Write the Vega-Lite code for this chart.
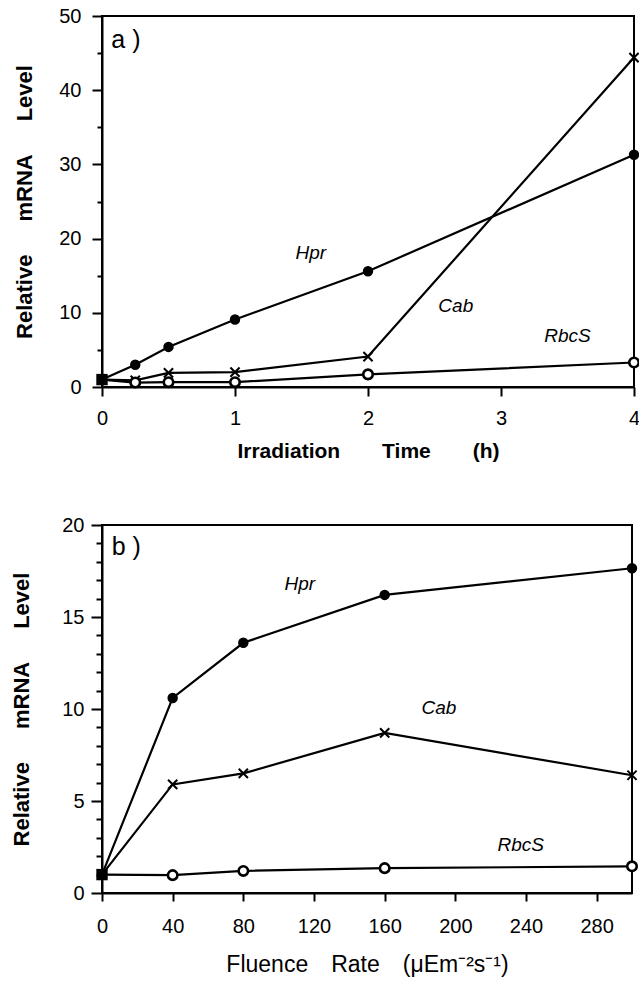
{
  "$schema": "https://vega.github.io/schema/vega-lite/v6.json",
  "background": "white",
  "padding": {"left": 9, "top": 5, "right": 2, "bottom": 2},
  "spacing": 52,
  "config": {
    "view": {"stroke": "black", "strokeWidth": 2},
    "font": "Liberation Sans",
    "axis": {
      "grid": false,
      "domainColor": "black",
      "domainWidth": 2,
      "tickColor": "black",
      "tickWidth": 2,
      "labelColor": "black",
      "titleColor": "black",
      "labelFont": "Liberation Sans",
      "titleFont": "Liberation Sans",
      "labelFontSize": 20,
      "labelFontWeight": "normal"
    }
  },
  "resolve": {"scale": {"x": "independent", "y": "independent"}},
  "datasets": {
    "timecourse": [
      {"time": 0, "level": 1, "gene": "Hpr"},
      {"time": 0.25, "level": 3.0, "gene": "Hpr"},
      {"time": 0.5, "level": 5.4, "gene": "Hpr"},
      {"time": 1, "level": 9.1, "gene": "Hpr"},
      {"time": 2, "level": 15.6, "gene": "Hpr"},
      {"time": 4, "level": 31.3, "gene": "Hpr"},
      {"time": 0, "level": 1, "gene": "Cab"},
      {"time": 0.25, "level": 0.9, "gene": "Cab"},
      {"time": 0.5, "level": 1.9, "gene": "Cab"},
      {"time": 1, "level": 2.0, "gene": "Cab"},
      {"time": 2, "level": 4.1, "gene": "Cab"},
      {"time": 4, "level": 44.4, "gene": "Cab"},
      {"time": 0, "level": 1, "gene": "RbcS"},
      {"time": 0.25, "level": 0.6, "gene": "RbcS"},
      {"time": 0.5, "level": 0.65, "gene": "RbcS"},
      {"time": 1, "level": 0.65, "gene": "RbcS"},
      {"time": 2, "level": 1.7, "gene": "RbcS"},
      {"time": 4, "level": 3.3, "gene": "RbcS"}
    ],
    "fluence": [
      {"fluence": 0, "level": 1, "gene": "Hpr"},
      {"fluence": 40, "level": 10.6, "gene": "Hpr"},
      {"fluence": 80, "level": 13.6, "gene": "Hpr"},
      {"fluence": 160, "level": 16.2, "gene": "Hpr"},
      {"fluence": 300, "level": 17.65, "gene": "Hpr"},
      {"fluence": 0, "level": 1, "gene": "Cab"},
      {"fluence": 40, "level": 5.9, "gene": "Cab"},
      {"fluence": 80, "level": 6.5, "gene": "Cab"},
      {"fluence": 160, "level": 8.7, "gene": "Cab"},
      {"fluence": 300, "level": 6.4, "gene": "Cab"},
      {"fluence": 0, "level": 1, "gene": "RbcS"},
      {"fluence": 40, "level": 0.97, "gene": "RbcS"},
      {"fluence": 80, "level": 1.2, "gene": "RbcS"},
      {"fluence": 160, "level": 1.35, "gene": "RbcS"},
      {"fluence": 300, "level": 1.45, "gene": "RbcS"}
    ],
    "labelsA": [
      {"time": 1.57, "level": 18.0, "text": "Hpr"},
      {"time": 2.66, "level": 10.85, "text": "Cab"},
      {"time": 3.5, "level": 6.9, "text": "RbcS"}
    ],
    "labelsB": [
      {"fluence": 112, "level": 16.8, "text": "Hpr"},
      {"fluence": 190.7, "level": 10.05, "text": "Cab"},
      {"fluence": 237, "level": 2.6, "text": "RbcS"}
    ],
    "tagA": [{"time": 0.07, "level": 46.7, "text": "a )"}],
    "tagB": [{"fluence": 5.5, "level": 18.8, "text": "b )"}]
  },
  "vconcat": [
    {
      "width": 532,
      "height": 371,
      "encoding": {
        "x": {
          "field": "time",
          "type": "quantitative",
          "scale": {"domain": [0, 4], "nice": false, "zero": false},
          "axis": {
            "title": "Irradiation\u2003\u2003Time\u2003\u2003(h)",
            "titleFontSize": 21,
            "titleFontWeight": "bold",
            "values": [0, 1, 2, 3, 4],
            "tickSize": 9,
            "labelPadding": 12,
            "titlePadding": 12,
            "labelFlush": false
          }
        },
        "y": {
          "field": "level",
          "type": "quantitative",
          "scale": {"domain": [0, 50], "nice": false},
          "axis": {
            "title": "Relative\u2003\u2002mRNA\u2003\u2002Level",
            "titleFontSize": 22,
            "titleFontWeight": "bold",
            "values": [0, 5, 10, 15, 20, 25, 30, 35, 40, 45, 50],
            "labelExpr": "datum.value % 10 === 0 ? datum.label : ''",
            "tickSize": {"condition": {"test": "datum.value % 10 === 0", "value": 10}, "value": 5},
            "labelPadding": 11,
            "titlePadding": 22
          }
        }
      },
      "layer": [
        {
          "data": {"name": "timecourse"},
          "mark": {"type": "line", "color": "black", "strokeWidth": 2.2},
          "encoding": {"detail": {"field": "gene"}}
        },
        {
          "data": {"name": "timecourse"},
          "transform": [{"filter": "datum.time > 0"}],
          "mark": {"type": "point", "filled": true, "opacity": 1, "stroke": "black"},
          "encoding": {
            "shape": {"field": "gene", "scale": {"domain": ["Hpr", "Cab", "RbcS"], "range": ["circle", "M-1,-1L1,1M-1,1L1,-1", "circle"]}, "legend": null},
            "fill": {"field": "gene", "scale": {"domain": ["Hpr", "Cab", "RbcS"], "range": ["black", "black", "white"]}, "legend": null},
            "size": {"field": "gene", "scale": {"domain": ["Hpr", "Cab", "RbcS"], "range": [80, 90, 55]}, "legend": null},
            "strokeWidth": {"field": "gene", "scale": {"domain": ["Hpr", "Cab", "RbcS"], "range": [1.5, 2.6, 1.8]}, "legend": null}
          }
        },
        {
          "data": {"name": "timecourse"},
          "transform": [{"filter": "datum.time == 0 && datum.gene == 'Hpr'"}],
          "mark": {"type": "square", "color": "black", "filled": true, "opacity": 1, "size": 130}
        },
        {
          "data": {"name": "labelsA"},
          "mark": {"type": "text", "fontStyle": "italic", "fontSize": 19, "font": "Liberation Sans", "color": "black"},
          "encoding": {"text": {"field": "text"}}
        },
        {
          "data": {"name": "tagA"},
          "mark": {"type": "text", "align": "left", "baseline": "middle", "fontSize": 25, "font": "Liberation Sans", "color": "black"},
          "encoding": {"text": {"field": "text"}}
        }
      ]
    },
    {
      "width": 530,
      "height": 368,
      "encoding": {
        "x": {
          "field": "fluence",
          "type": "quantitative",
          "scale": {"domain": [0, 300], "nice": false, "zero": false},
          "axis": {
            "title": "Fluence\u2003Rate\u2003(\u03bcEm\u207b\u00b2s\u207b\u00b9)",
            "titleFontSize": 23,
            "titleFontWeight": "normal",
            "values": [0, 40, 80, 120, 160, 200, 240, 280],
            "tickSize": 8,
            "labelPadding": 15,
            "titlePadding": 17,
            "labelFlush": false
          }
        },
        "y": {
          "field": "level",
          "type": "quantitative",
          "scale": {"domain": [0, 20], "nice": false},
          "axis": {
            "title": "Relative\u2003\u2002mRNA\u2003\u2002Level",
            "titleFontSize": 22,
            "titleFontWeight": "bold",
            "values": [0, 1, 2, 3, 4, 5, 6, 7, 8, 9, 10, 11, 12, 13, 14, 15, 16, 17, 18, 19, 20],
            "labelExpr": "datum.value % 5 === 0 ? datum.label : ''",
            "tickSize": {"condition": {"test": "datum.value % 5 === 0", "value": 11}, "value": 6},
            "labelPadding": 7,
            "titlePadding": 28
          }
        }
      },
      "layer": [
        {
          "data": {"name": "fluence"},
          "mark": {"type": "line", "color": "black", "strokeWidth": 2.2},
          "encoding": {"detail": {"field": "gene"}}
        },
        {
          "data": {"name": "fluence"},
          "transform": [{"filter": "datum.fluence > 0"}],
          "mark": {"type": "point", "filled": true, "opacity": 1, "stroke": "black"},
          "encoding": {
            "shape": {"field": "gene", "scale": {"domain": ["Hpr", "Cab", "RbcS"], "range": ["circle", "M-1,-1L1,1M-1,1L1,-1", "circle"]}, "legend": null},
            "fill": {"field": "gene", "scale": {"domain": ["Hpr", "Cab", "RbcS"], "range": ["black", "black", "white"]}, "legend": null},
            "size": {"field": "gene", "scale": {"domain": ["Hpr", "Cab", "RbcS"], "range": [80, 90, 55]}, "legend": null},
            "strokeWidth": {"field": "gene", "scale": {"domain": ["Hpr", "Cab", "RbcS"], "range": [1.5, 2.6, 1.8]}, "legend": null}
          }
        },
        {
          "data": {"name": "fluence"},
          "transform": [{"filter": "datum.fluence == 0 && datum.gene == 'Hpr'"}],
          "mark": {"type": "square", "color": "black", "filled": true, "opacity": 1, "size": 130}
        },
        {
          "data": {"name": "labelsB"},
          "mark": {"type": "text", "fontStyle": "italic", "fontSize": 19, "font": "Liberation Sans", "color": "black"},
          "encoding": {"text": {"field": "text"}}
        },
        {
          "data": {"name": "tagB"},
          "mark": {"type": "text", "align": "left", "baseline": "middle", "fontSize": 25, "font": "Liberation Sans", "color": "black"},
          "encoding": {"text": {"field": "text"}}
        }
      ]
    }
  ]
}
